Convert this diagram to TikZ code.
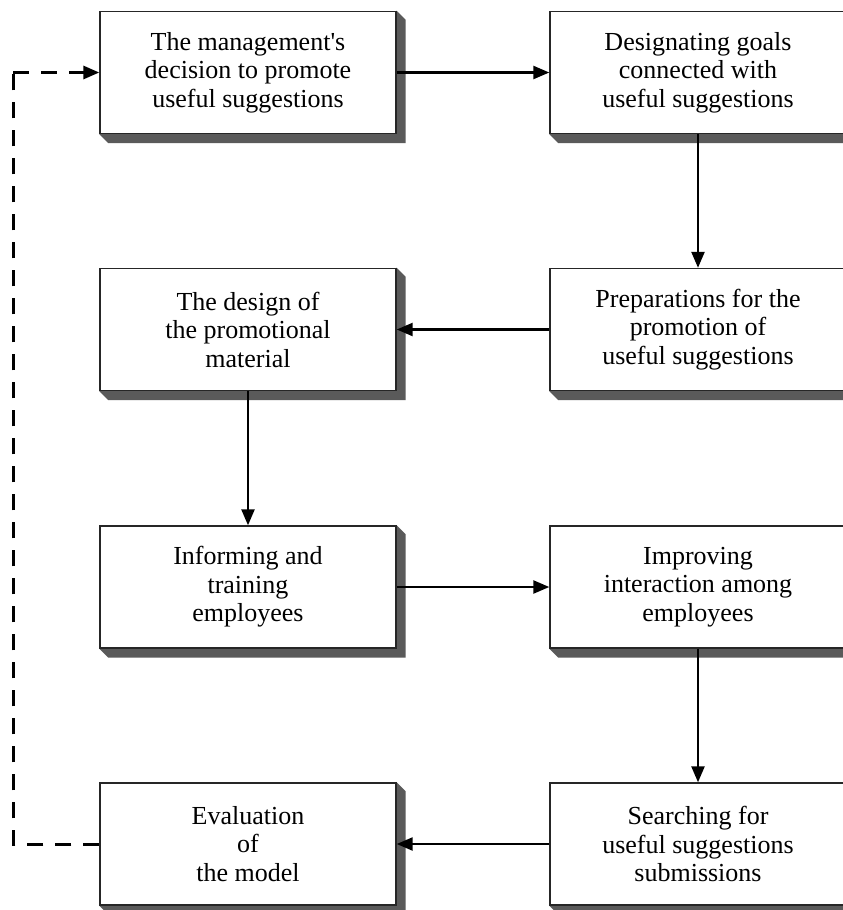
\documentclass[tikz,border=0pt]{standalone}
\usepackage{fontspec}
\setmainfont{Liberation Serif}
\usetikzlibrary{arrows.meta,calc,backgrounds}
\definecolor{shadowc}{HTML}{5A5A5A}
\tikzset{
  stepbox/.style={draw=black!85, line width=1.4pt, fill=white, minimum width=296pt, minimum height=122pt, inner sep=0pt, align=center, font=\fontsize{26}{28.5}\selectfont},
  flow/.style={line width=2.4pt, -{Triangle[length=16pt,width=13pt]}},
  feedback/.style={line width=3pt, dash pattern=on 16pt off 12pt},
  feedbackarrow/.style={line width=3pt, dash pattern=on 16pt off 12pt, -{Triangle[length=16pt,width=13pt]}}
}
\newcommand{\boxshadow}[1]{%
  \fill[shadowc] (#1.south west) -- ++(9pt,-9pt) -- ($(#1.south east)+(9pt,-9pt)$) -- ($(#1.north east)+(9pt,-9pt)$) -- (#1.north east) -- cycle;}
\begin{document}
\begin{tikzpicture}[x=1pt,y=-1pt]
\clip (0,0) rectangle (843,910);
\node[stepbox] (a) at (248,72.5) {The management\textquotesingle s\\decision to promote\\useful suggestions};
\node[stepbox] (b) at (698,72.5) {Designating goals\\connected with\\useful suggestions};
\node[stepbox] (c) at (698,329.5) {Preparations for the\\promotion of\\useful suggestions};
\node[stepbox] (d) at (248,329.5) {The design of\\the promotional\\material};
\node[stepbox] (e) at (248,587) {Informing and\\training\\employees};
\node[stepbox] (f) at (698,587) {Improving\\interaction among\\employees};
\node[stepbox] (g) at (698,844) {Searching for\\useful suggestions\\submissions};
\node[stepbox] (h) at (248,844) {Evaluation\\of\\the model};
\begin{scope}[on background layer]
\fill[white] (0,0) rectangle (843,910);
\foreach \n in {a,b,c,d,e,f,g,h}{\boxshadow{\n}}
\end{scope}
\coordinate (fl) at (13,844);
\coordinate (fu) at (13,72.5);
\draw[flow] (a) -- (b);
\draw[flow] (b) -- (c);
\draw[flow] (c) -- (d);
\draw[flow] (d) -- (e);
\draw[flow] (e) -- (f);
\draw[flow] (f) -- (g);
\draw[flow] (g) -- (h);
\draw[feedback] (h.west) -- (fl) -- (fu);
\draw[feedbackarrow] (fu) -- (a.west);
\end{tikzpicture}
\end{document}
